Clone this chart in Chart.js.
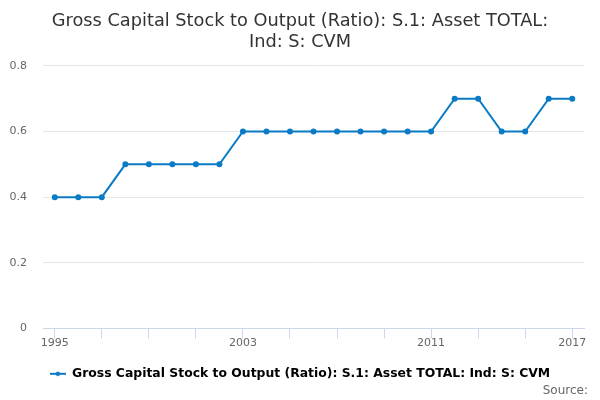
<!DOCTYPE html>
<html>
<head>
<meta charset="utf-8">
<script src="https://cdn.jsdelivr.net/npm/chart.js@4"></script>
<style>
html,body{margin:0;padding:0;background:#fff;}
#wrap{width:600px;height:400px;position:relative;}
</style>
</head>
<body>
<div id="wrap"><canvas id="c" width="600" height="400"></canvas></div>
<script>
const years = ["1995","1996","1997","1998","1999","2000","2001","2002","2003","2004","2005","2006","2007","2008","2009","2010","2011","2012","2013","2014","2015","2016","2017"];
const values = [0.4,0.4,0.4,0.5,0.5,0.5,0.5,0.5,0.6,0.6,0.6,0.6,0.6,0.6,0.6,0.6,0.6,0.7,0.7,0.6,0.6,0.7,0.7];
const shownLabels = ["1995","2003","2011","2017"];
const seriesName = "Gross Capital Stock to Output (Ratio): S.1: Asset TOTAL: Ind: S: CVM";
const titleLines = ["Gross Capital Stock to Output (Ratio): S.1: Asset TOTAL:", "Ind: S: CVM"];
const lineColor = "#0a7bc4";

// legend marker: line with a dot
const marker = document.createElement('canvas');
marker.width = 16; marker.height = 6;
(function(){
  const g = marker.getContext('2d');
  g.strokeStyle = lineColor; g.lineWidth = 2;
  g.beginPath(); g.moveTo(0,3); g.lineTo(16,3); g.stroke();
  g.fillStyle = lineColor; g.beginPath(); g.arc(8,3,2.2,0,Math.PI*2); g.fill();
})();

const sourcePlugin = {
  id: 'sourceText',
  afterDraw(chart) {
    const ctx = chart.ctx;
    ctx.save();
    ctx.font = '12px "DejaVu Sans"';
    ctx.fillStyle = '#666';
    ctx.textAlign = 'right';
    ctx.textBaseline = 'alphabetic';
    ctx.fillText('Source:', 588, 394);
    ctx.restore();
  }
};

new Chart(document.getElementById('c'), {
  type: 'line',
  data: {
    labels: years,
    datasets: [{
      label: seriesName,
      data: values,
      borderColor: lineColor,
      backgroundColor: lineColor,
      borderWidth: 2,
      pointRadius: 2,
      pointHoverRadius: 3,
      tension: 0,
      fill: false
    }]
  },
  options: {
    responsive: false,
    animation: false,
    layout: { padding: { left: 10, right: 10, top: 6, bottom: 10 } },
    plugins: {
      title: {
        display: true,
        text: titleLines,
        color: '#333',
        font: { family: '"DejaVu Sans"', size: 17.75, weight: 'normal', lineHeight: 1.18 },
        padding: { top: 5, bottom: 13 }
      },
      legend: {
        position: 'bottom',
        labels: {
          color: '#333',
          font: { family: '"DejaVu Sans"', size: 12.4, weight: 'bold' },
          usePointStyle: true,
          pointStyleWidth: 16,
          generateLabels(chart) {
            return [{
              text: seriesName,
              pointStyle: marker,
              fillStyle: lineColor,
              strokeStyle: lineColor,
              lineWidth: 0,
              datasetIndex: 0
            }];
          },
          padding: 20
        }
      },
      tooltip: { enabled: false }
    },
    scales: {
      x: {
        offset: true,
        grid: {
          display: true,
          drawOnChartArea: false,
          drawTicks: true,
          tickLength: 10,
          color: '#ccd6eb',
          offset: false
        },
        border: { display: true, color: '#ccd6eb', width: 1 },
        ticks: {
          autoSkip: false,
          maxRotation: 0,
          color: '#666',
          padding: -2,
          font: { family: '"DejaVu Sans"', size: 11 },
          callback(val, idx) {
            if (idx % 2 !== 0) return null;
            const l = years[idx];
            return shownLabels.includes(l) ? l : '';
          }
        }
      },
      y: {
        min: 0,
        max: 0.8,
        afterFit(scale) { scale.width = 33; },
        ticks: {
          stepSize: 0.2,
          color: '#666',
          padding: 16,
          font: { family: '"DejaVu Sans"', size: 11 }
        },
        grid: { color: '#e6e6e6', drawTicks: false },
        border: { display: false }
      },
      yRight: {
        position: 'right',
        min: 0,
        max: 0.8,
        afterFit(scale) { scale.width = 6; },
        ticks: { display: false },
        grid: { display: false, drawTicks: false },
        border: { display: false }
      }
    }
  },
  plugins: [sourcePlugin]
});
</script>
</body>
</html>
